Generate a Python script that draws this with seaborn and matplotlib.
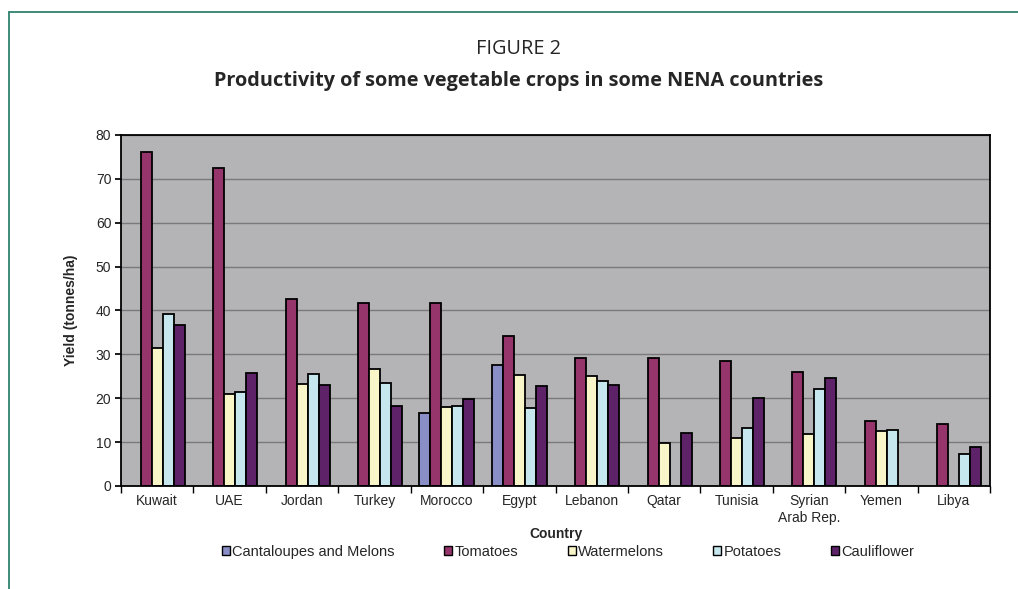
import numpy as np
import pandas as pd
import matplotlib
matplotlib.use("Agg")
import matplotlib.pyplot as plt
from matplotlib.lines import Line2D
from matplotlib.patches import Patch
import seaborn as sns

countries = ["Kuwait", "UAE", "Jordan", "Turkey", "Morocco", "Egypt", "Lebanon",
             "Qatar", "Tunisia", "Syrian\nArab Rep.", "Yemen", "Libya"]
crops = ["Cantaloupes and Melons", "Tomatoes", "Watermelons", "Potatoes", "Cauliflower"]
nan = np.nan
cantaloupes = [nan, nan, nan, nan, 16.6, 27.5, nan, nan, nan, nan, nan, nan]
tomatoes = [76.1, 72.4, 42.6, 41.8, 41.6, 34.1, 29.2, 29.1, 28.5, 26.0, 14.9, 14.2]
watermelons = [31.5, 21.0, 23.2, 26.7, 18.0, 25.4, 25.0, 9.8, 11.0, 11.8, 12.6, nan]
potatoes = [39.2, 21.4, 25.6, 23.5, 18.3, 17.7, 24.0, nan, 13.3, 22.1, 12.7, 7.3]
cauliflower = [36.8, 25.7, 23.0, 18.2, 19.8, 22.9, 23.1, 12.1, 20.0, 24.7, nan, 8.8]
colors = ["#8a8ec6", "#96356b", "#f8f6c8", "#c5e7ed", "#5e2268"]

series = [cantaloupes, tomatoes, watermelons, potatoes, cauliflower]
rows = []
for crop, vals in zip(crops, series):
    for c, v in zip(countries, vals):
        rows.append({"Country": c, "Crop": crop, "Yield": v})
df = pd.DataFrame(rows)

sns.set_theme(style="white")
plt.rcParams["font.family"] = ["Liberation Sans", "DejaVu Sans"]

fig = plt.figure(figsize=(10.18, 5.89), dpi=100)
ax = fig.add_axes([0.1189, 0.1749, 0.8536, 0.5959])
ax.set_facecolor("#b4b4b7")
ax.set_axisbelow(True)
ax.yaxis.grid(True, color="#7a7a7a", linewidth=1.0)

sns.barplot(data=df, x="Country", y="Yield", hue="Crop", order=countries,
            hue_order=crops, palette=colors, edgecolor="black", linewidth=1.3,
            width=0.76, errorbar=None, ax=ax, legend=False, saturation=1)

ax.set_ylim(0, 80)
ax.set_xlim(-0.5, len(countries) - 0.5)
ax.set_yticks(range(0, 81, 10))
ax.tick_params(axis="y", labelsize=10, length=4, direction="out", left=True, color="black", pad=3)
ax.tick_params(axis="x", which="major", labelsize=10, length=0, pad=6)
ax.set_xticks(np.arange(-0.5, len(countries), 1.0), minor=True)
ax.tick_params(axis="x", which="minor", length=5, direction="out", bottom=True, color="black")
for s in ax.spines.values():
    s.set_visible(True)
    s.set_color("black")
    s.set_linewidth(1.3)

ax.set_xlabel("Country", fontsize=10, fontweight="bold", labelpad=2)
ax.set_ylabel("Yield (tonnes/ha)", fontsize=10, fontweight="bold", labelpad=13)

handles = [Patch(facecolor=c, edgecolor="black", linewidth=1.0) for c in colors]
fig.legend(handles, crops, loc="center", bbox_to_anchor=(0.558, 0.063), ncol=5,
           frameon=False, fontsize=10.5, handlelength=0.55, handleheight=0.55,
           handletextpad=0.15, columnspacing=3.4)

fig.text(0.509, 0.916, "FIGURE 2", ha="center", va="center", fontsize=14.3,
         family=["Open Sans", "DejaVu Sans"])
fig.text(0.509, 0.862, "Productivity of some vegetable crops in some NENA countries",
         ha="center", va="center", fontsize=14.3, fontweight="bold",
         family=["Open Sans", "DejaVu Sans"])

border = "#2f846e"
fig.add_artist(Line2D([9 / 1018, 1.0], [1 - 12 / 589, 1 - 12 / 589], color=border, linewidth=1.3))
fig.add_artist(Line2D([9 / 1018, 9 / 1018], [0.0, 1 - 12 / 589], color=border, linewidth=1.3))

fig.savefig("out.png", dpi=100, facecolor="white")
